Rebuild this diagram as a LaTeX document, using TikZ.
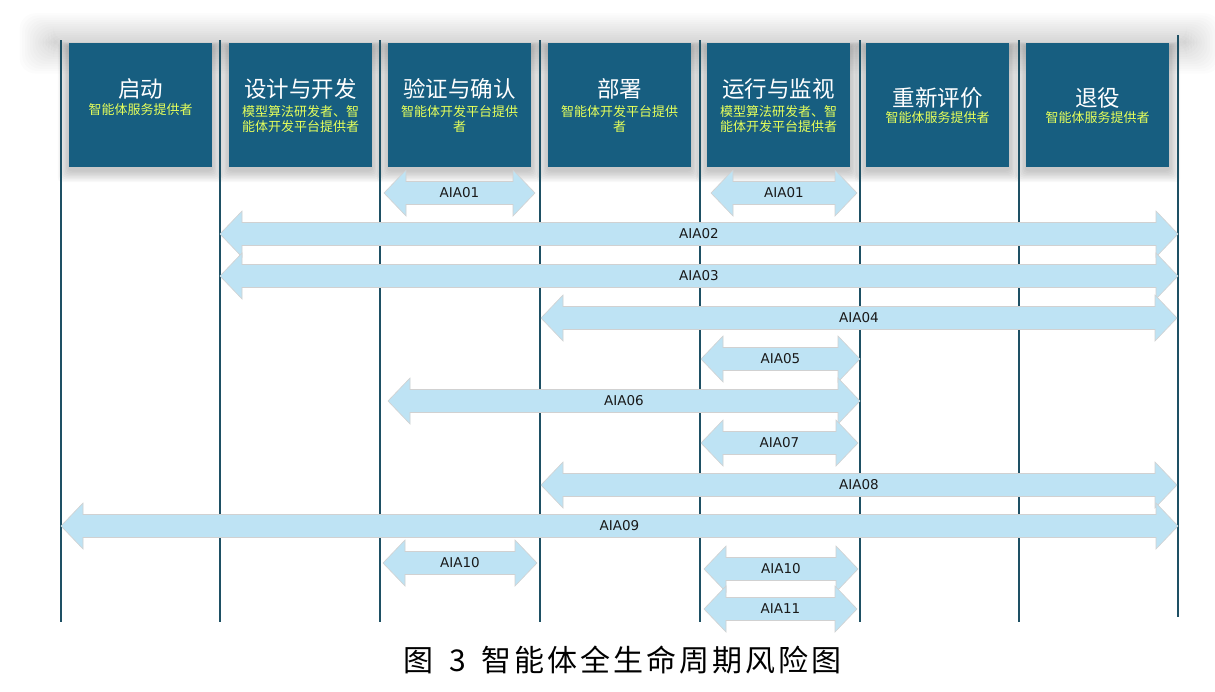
\documentclass[tikz,border=0pt]{standalone}
\usepackage{fontspec}
\setmainfont{DejaVu Sans}
\newfontfamily\cjk{Noto Sans CJK SC}
\definecolor{boxblue}{RGB}{23,94,128}
\definecolor{linecol}{RGB}{30,80,100}
\definecolor{arrowfill}{RGB}{190,227,244}
\definecolor{subyellow}{RGB}{230,255,90}
\tikzset{
  vline/.style={draw=linecol, line width=2pt},
  stagebox/.style={fill=boxblue, minimum width=143pt, minimum height=124pt, inner sep=0pt, anchor=north west},
  ttl/.style={text=white, font=\cjk\fontsize{22.5}{25}\selectfont, inner sep=0pt},
  subttl/.style={text=subyellow, font=\cjk\fontsize{13}{15.5}\selectfont, align=center, inner sep=0pt},
  riskfill/.style={fill=arrowfill, draw=black!18, line width=0.6pt},
  lbl/.style={font=\fontsize{13.5}{15}\selectfont, text=black!90, inner sep=0pt},
}
\newcommand{\riskarrow}[5]{%
  \filldraw[riskfill] (#2,#4) -- ({#2+22},{#4-23}) -- ({#2+22},{#4-11.5}) -- ({#3-22},{#4-11.5}) -- ({#3-22},{#4-23}) -- (#3,#4) -- ({#3-22},{#4+23}) -- ({#3-22},{#4+11.5}) -- ({#2+22},{#4+11.5}) -- ({#2+22},{#4+23}) -- cycle;
  \node[lbl] (#1) at ({(#2+#3)/2},#4) {#5};}
\begin{document}
\begin{tikzpicture}[x=1pt,y=-1pt]
\useasboundingbox (0,0) rectangle (1215,691);
\fill[white] (0,0) rectangle (1215,691);
% soft glow above the row of stages
\foreach \k in {1,...,14}
  \fill[black,opacity=0.011,rounded corners=16pt] ({56-\k*2.6},{44-\k*2.2}) rectangle ({1184+\k*2.6},{40+\k*2.4});
% box shadows
\foreach \bx in {69,229,388,548,707,866,1026}
  \foreach \k in {1,...,8}
    \fill[black,opacity=0.028,rounded corners=4pt] ({\bx-\k*1.4},{46-\k*0.5}) rectangle ({\bx+143+\k*1.4},{170+\k*1.5});
% vertical lines
\foreach \x in {61,220,380,540,700,860,1019}
  \draw[vline] (\x,40) -- (\x,622);
\draw[vline] (1178,35) -- (1178,617);
% stage boxes
\node[stagebox] (b1) at (69,43) {};
\node[stagebox] (b2) at (229,43) {};
\node[stagebox] (b3) at (388,43) {};
\node[stagebox] (b4) at (548,43) {};
\node[stagebox] (b5) at (707,43) {};
\node[stagebox] (b6) at (866,43) {};
\node[stagebox] (b7) at (1026,43) {};
\node[ttl] (t1) at (140.5,89) {启动};
\node[subttl] (s1) at (140.5,110) {智能体服务提供者};
\node[ttl] (t2) at (300.5,89) {设计与开发};
\node[subttl] (s2) at (300.5,119) {模型算法研发者、智\\能体开发平台提供者};
\node[ttl] (t3) at (459.5,89) {验证与确认};
\node[subttl] (s3) at (459.5,119) {智能体开发平台提供\\者};
\node[ttl] (t4) at (619.5,89) {部署};
\node[subttl] (s4) at (619.5,119) {智能体开发平台提供\\者};
\node[ttl] (t5) at (778.5,89) {运行与监视};
\node[subttl] (s5) at (778.5,119) {模型算法研发者、智\\能体开发平台提供者};
\node[ttl] (t6) at (937.5,98) {重新评价};
\node[subttl] (s6) at (937.5,118) {智能体服务提供者};
\node[ttl] (t7) at (1097.5,98) {退役};
\node[subttl] (s7) at (1097.5,118) {智能体服务提供者};
% risk arrows
\riskarrow{a01a}{384}{535}{193}{AIA01}
\riskarrow{a01b}{711}{857}{193}{AIA01}
\riskarrow{a02}{220}{1178}{234}{AIA02}
\riskarrow{a03}{220}{1178}{276}{AIA03}
\riskarrow{a04}{541}{1177}{318}{AIA04}
\riskarrow{a05}{701}{860}{359}{AIA05}
\riskarrow{a06}{388}{860}{401}{AIA06}
\riskarrow{a07}{701}{858}{443}{AIA07}
\riskarrow{a08}{541}{1177}{485}{AIA08}
\riskarrow{a09}{61}{1178}{526}{AIA09}
\riskarrow{a10a}{383}{537}{563}{AIA10}
\riskarrow{a10b}{704}{858}{569}{AIA10}
\riskarrow{a11}{704}{857}{609}{AIA11}
% caption
\node[anchor=west, inner sep=0pt, font=\cjk\fontsize{30}{32}\selectfont] (cap) at (403,660)
  {图\kern16pt 3\kern16pt 智\kern3pt 能\kern3pt 体\kern3pt 全\kern3pt 生\kern3pt 命\kern3pt 周\kern3pt 期\kern3pt 风\kern3pt 险\kern3pt 图};
\end{tikzpicture}
\end{document}
